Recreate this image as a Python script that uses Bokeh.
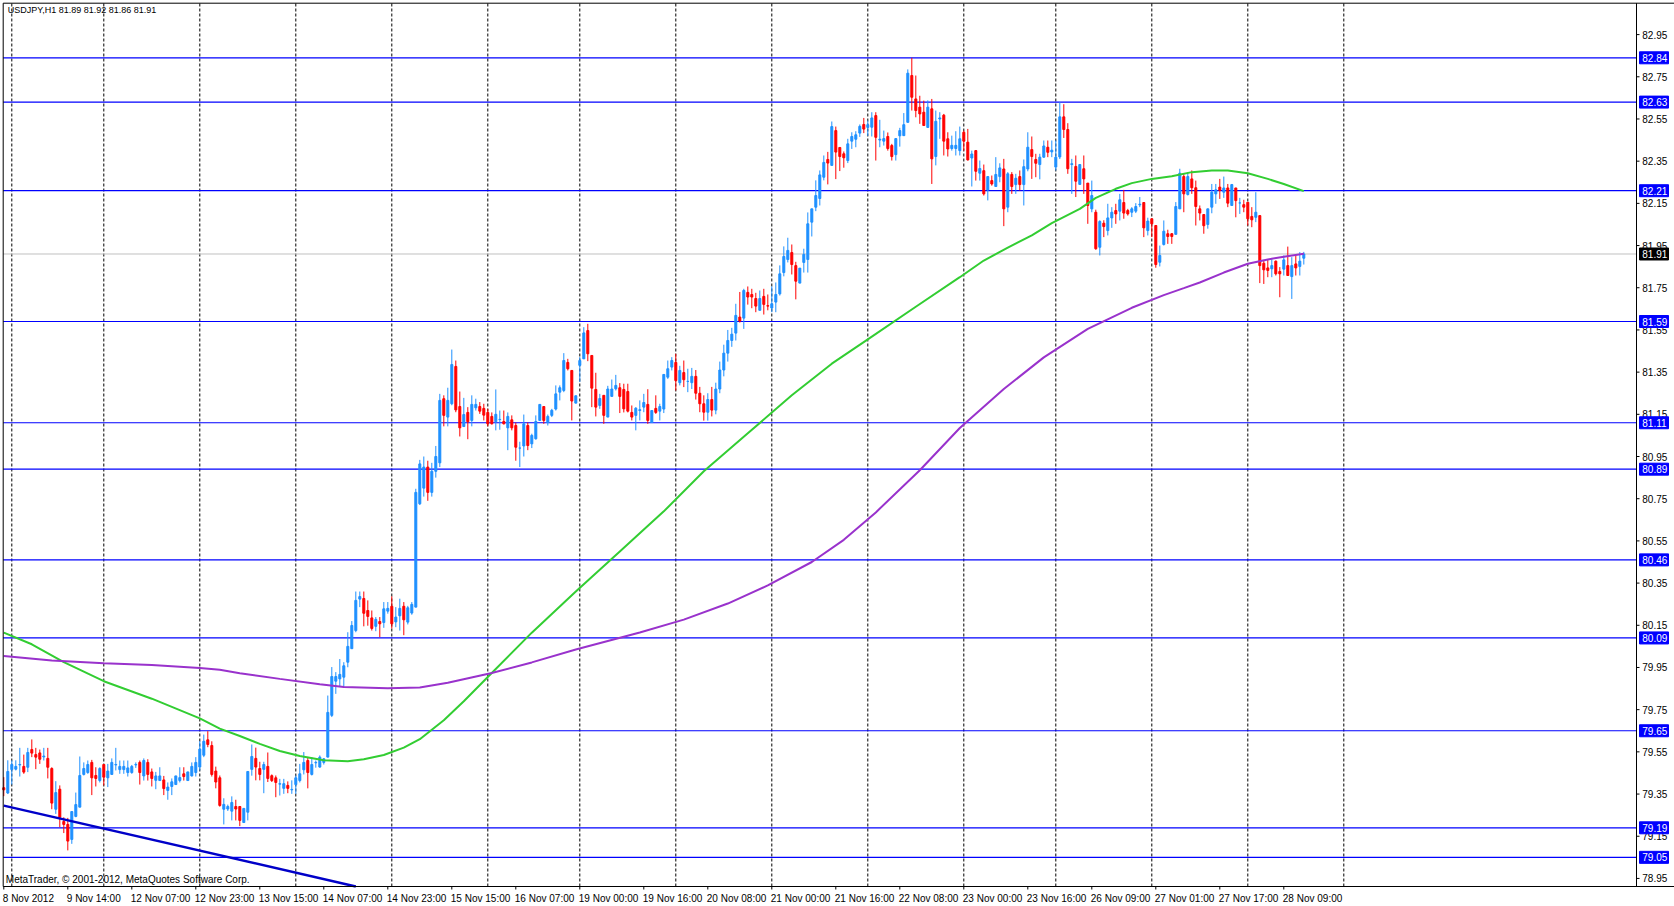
from bokeh.plotting import figure
from bokeh.models import Range1d, ColumnDataSource
from bokeh.core.properties import value
from bokeh.embed import file_html
from bokeh.resources import INLINE

# ---------------- data (USDJPY H1, bar index 0 = 8 Nov 2012 22:00) ----------------
opens = [
79.38, 79.355, 79.466, 79.468, 79.488, 79.481, 79.477, 79.561, 79.537, 79.545,
79.526, 79.519, 79.471, 79.278, 79.373, 79.22, 79.206, 79.135, 79.244, 79.288,
79.443, 79.452, 79.5, 79.438, 79.414, 79.49, 79.427, 79.443, 79.488, 79.466,
79.466, 79.452, 79.452, 79.488, 79.5, 79.436, 79.5, 79.455, 79.415, 79.414,
79.417, 79.367, 79.386, 79.395, 79.414, 79.446, 79.414, 79.436, 79.452, 79.478,
79.534, 79.607, 79.58, 79.459, 79.427, 79.278, 79.279, 79.269, 79.291, 79.291,
79.215, 79.264, 79.467, 79.519, 79.471, 79.467, 79.481, 79.437, 79.427, 79.397,
79.377, 79.391, 79.37, 79.395, 79.414, 79.465, 79.509, 79.443, 79.498, 79.478,
79.5, 79.525, 79.723, 79.885, 79.896, 79.904, 79.975, 80.039, 80.125, 80.274,
80.277, 80.22, 80.185, 80.145, 80.168, 80.163, 80.217, 80.24, 80.166, 80.195,
80.24, 80.165, 80.208, 80.236, 80.726, 80.80, 80.90, 80.78, 80.88, 80.92,
81.224, 81.137, 81.2, 81.377, 81.187, 81.092, 81.159, 81.121, 81.181, 81.187,
81.178, 81.159, 81.14, 81.115, 81.125, 81.116, 81.086, 81.124, 81.097, 80.99,
81.0, 81.097, 81.01, 81.034, 81.121, 81.187, 81.111, 81.145, 81.175, 81.255,
81.263, 81.396, 81.358, 81.203, 81.382, 81.413, 81.547, 81.429, 81.268, 81.192,
81.24, 81.137, 81.235, 81.271, 81.276, 81.268, 81.258, 81.159, 81.145, 81.168,
81.184, 81.197, 81.111, 81.178, 81.165, 81.175, 81.326, 81.374, 81.396, 81.3,
81.348, 81.306, 81.30, 81.33, 81.25, 81.20, 81.16, 81.22, 81.17, 81.27,
81.36, 81.44, 81.50, 81.535, 81.611, 81.606, 81.728, 81.718, 81.699, 81.643,
81.709, 81.665, 81.654, 81.682, 81.721, 81.822, 81.884, 81.917, 81.855, 81.772,
81.87, 81.884, 82.061, 82.132, 82.173, 82.274, 82.358, 82.33, 82.495, 82.415,
82.385, 82.353, 82.445, 82.454, 82.483, 82.524, 82.51, 82.511, 82.566, 82.45,
82.445, 82.467, 82.424, 82.381, 82.47, 82.471, 82.534, 82.756, 82.645, 82.606,
82.582, 82.51, 82.598, 82.372, 82.55, 82.568, 82.456, 82.41, 82.41, 82.4,
82.487, 82.44, 82.365, 82.4, 82.293, 82.305, 82.213, 82.258, 82.23, 82.277,
82.313, 82.132, 82.287, 82.239, 82.277, 82.239, 82.313, 82.405, 82.358, 82.334,
82.369, 82.416, 82.394, 82.322, 82.37, 82.56, 82.50, 82.334, 82.325, 82.24,
82.314, 82.246, 82.124, 82.108, 81.942, 82.056, 82.021, 82.081, 82.116, 82.113,
82.154, 82.116, 82.108, 82.113, 82.143, 82.154, 82.021, 82.077, 82.045, 81.871,
81.955, 82.006, 82.006, 82.003, 82.124, 82.277, 82.192, 82.266, 82.224, 82.124,
82.097, 82.05, 82.132, 82.195, 82.227, 82.203, 82.223, 82.14, 82.223, 82.152,
82.144, 82.155, 82.088, 82.084, 82.092, 81.866, 81.844, 81.84, 81.876, 81.827,
81.838, 81.855, 81.803, 81.863, 81.851, 81.89]

highs = [
79.43, 79.51, 79.51, 79.51, 79.569, 79.537, 79.569, 79.609, 79.569, 79.561,
79.569, 79.569, 79.477, 79.411, 79.391, 79.24, 79.237, 79.267, 79.357, 79.528,
79.5, 79.509, 79.512, 79.477, 79.477, 79.49, 79.493, 79.519, 79.569, 79.509,
79.509, 79.509, 79.488, 79.5, 79.509, 79.519, 79.515, 79.471, 79.455, 79.477,
79.436, 79.405, 79.424, 79.436, 79.477, 79.477, 79.455, 79.5, 79.525, 79.601,
79.632, 79.648, 79.6, 79.48, 79.438, 79.33, 79.3, 79.339, 79.323, 79.291,
79.282, 79.457, 79.585, 79.57, 79.503, 79.503, 79.547, 79.443, 79.438, 79.422,
79.422, 79.41, 79.415, 79.438, 79.493, 79.549, 79.525, 79.525, 79.509, 79.533,
79.52, 79.817, 79.952, 79.928, 79.99, 79.975, 80.117, 80.17, 80.31, 80.31,
80.31, 80.268, 80.22, 80.189, 80.189, 80.26, 80.26, 80.287, 80.236, 80.276,
80.26, 80.242, 80.26, 80.797, 80.934, 80.95, 80.93, 80.92, 81.0, 81.247,
81.24, 81.276, 81.457, 81.405, 81.258, 81.228, 81.184, 81.24, 81.224, 81.208,
81.2, 81.176, 81.159, 81.268, 81.168, 81.168, 81.159, 81.145, 81.111, 81.02,
81.149, 81.111, 81.058, 81.145, 81.197, 81.187, 81.149, 81.176, 81.287, 81.287,
81.44, 81.413, 81.358, 81.238, 81.421, 81.563, 81.579, 81.429, 81.347, 81.247,
81.24, 81.285, 81.315, 81.337, 81.298, 81.295, 81.295, 81.192, 81.184, 81.216,
81.247, 81.269, 81.168, 81.24, 81.2, 81.339, 81.405, 81.421, 81.437, 81.38,
81.405, 81.366, 81.37, 81.36, 81.28, 81.24, 81.25, 81.28, 81.30, 81.40,
81.48, 81.55, 81.56, 81.674, 81.73, 81.745, 81.756, 81.745, 81.726, 81.737,
81.745, 81.718, 81.756, 81.775, 81.856, 81.946, 81.987, 81.955, 81.873, 81.843,
81.935, 82.107, 82.124, 82.259, 82.306, 82.377, 82.394, 82.538, 82.514, 82.415,
82.396, 82.456, 82.487, 82.492, 82.524, 82.555, 82.543, 82.582, 82.582, 82.546,
82.495, 82.486, 82.432, 82.457, 82.508, 82.578, 82.785, 82.84, 82.756, 82.66,
82.637, 82.638, 82.645, 82.59, 82.582, 82.574, 82.487, 82.471, 82.492, 82.514,
82.495, 82.503, 82.4, 82.403, 82.353, 82.334, 82.277, 82.282, 82.369, 82.34,
82.361, 82.298, 82.298, 82.29, 82.306, 82.358, 82.487, 82.467, 82.385, 82.385,
82.448, 82.448, 82.448, 82.448, 82.63, 82.62, 82.53, 82.361, 82.377, 82.334,
82.377, 82.246, 82.258, 82.12, 82.07, 82.07, 82.148, 82.132, 82.148, 82.195,
82.214, 82.124, 82.132, 82.151, 82.18, 82.154, 82.082, 82.077, 82.045, 81.95,
82.069, 82.025, 82.009, 82.156, 82.314, 82.293, 82.298, 82.306, 82.258, 82.14,
82.097, 82.124, 82.242, 82.242, 82.266, 82.277, 82.242, 82.242, 82.223, 82.176,
82.167, 82.155, 82.132, 82.203, 82.092, 81.882, 81.882, 81.887, 81.879, 81.848,
81.903, 81.945, 81.895, 81.903, 81.919, 81.92]

lows = [
79.34, 79.35, 79.395, 79.462, 79.433, 79.446, 79.454, 79.525, 79.468, 79.493,
79.509, 79.424, 79.278, 79.256, 79.193, 79.165, 79.083, 79.114, 79.24, 79.288,
79.438, 79.446, 79.345, 79.386, 79.405, 79.391, 79.383, 79.443, 79.462, 79.446,
79.446, 79.433, 79.446, 79.474, 79.395, 79.414, 79.414, 79.386, 79.373, 79.414,
79.345, 79.323, 79.345, 79.395, 79.405, 79.414, 79.414, 79.433, 79.433, 79.462,
79.525, 79.572, 79.433, 79.377, 79.29, 79.206, 79.27, 79.225, 79.225, 79.198,
79.215, 79.225, 79.437, 79.415, 79.415, 79.354, 79.407, 79.407, 79.335, 79.343,
79.351, 79.354, 79.351, 79.351, 79.405, 79.443, 79.377, 79.438, 79.475, 79.475,
79.49, 79.525, 79.715, 79.825, 79.857, 79.857, 79.951, 80.039, 80.117, 80.236,
80.145, 80.148, 80.125, 80.122, 80.094, 80.138, 80.205, 80.135, 80.141, 80.125,
80.103, 80.154, 80.2, 80.236, 80.72, 80.76, 80.74, 80.76, 80.85, 80.90,
81.093, 81.093, 81.193, 81.16, 81.045, 81.092, 81.032, 81.093, 81.168, 81.152,
81.121, 81.093, 81.102, 81.074, 81.077, 81.102, 80.98, 81.074, 80.93, 80.90,
80.95, 80.98, 80.99, 81.03, 81.121, 81.105, 81.097, 81.137, 81.168, 81.216,
81.255, 81.358, 81.121, 81.203, 81.303, 81.413, 81.402, 81.184, 81.14, 81.176,
81.105, 81.137, 81.235, 81.263, 81.156, 81.159, 81.159, 81.121, 81.074, 81.121,
81.16, 81.105, 81.111, 81.152, 81.121, 81.156, 81.318, 81.358, 81.263, 81.287,
81.279, 81.255, 81.27, 81.22, 81.16, 81.12, 81.12, 81.14, 81.15, 81.25,
81.33, 81.40, 81.47, 81.50, 81.585, 81.555, 81.67, 81.653, 81.634, 81.643,
81.623, 81.643, 81.634, 81.634, 81.713, 81.804, 81.87, 81.813, 81.695, 81.772,
81.822, 81.822, 81.993, 82.113, 82.14, 82.259, 82.24, 82.33, 82.265, 82.303,
82.319, 82.341, 82.408, 82.416, 82.465, 82.483, 82.47, 82.467, 82.353, 82.416,
82.424, 82.4, 82.353, 82.353, 82.419, 82.471, 82.534, 82.59, 82.558, 82.527,
82.519, 82.51, 82.242, 82.33, 82.456, 82.377, 82.372, 82.4, 82.377, 82.377,
82.4, 82.353, 82.23, 82.258, 82.258, 82.187, 82.164, 82.234, 82.23, 82.25,
82.042, 82.108, 82.195, 82.195, 82.211, 82.14, 82.302, 82.266, 82.274, 82.264,
82.366, 82.369, 82.369, 82.306, 82.36, 82.46, 82.29, 82.195, 82.18, 82.24,
82.195, 82.053, 82.108, 81.93, 81.903, 81.99, 81.998, 82.034, 82.053, 82.069,
82.077, 82.092, 82.085, 82.104, 82.132, 81.99, 81.998, 81.99, 81.845, 81.851,
81.95, 81.958, 81.958, 82.003, 82.124, 82.108, 82.187, 82.195, 82.045, 82.069,
82.006, 82.03, 82.103, 82.148, 82.171, 82.176, 82.132, 82.14, 82.084, 82.1,
82.108, 82.045, 82.037, 82.061, 81.772, 81.768, 81.8, 81.8, 81.808, 81.705,
81.808, 81.808, 81.697, 81.808, 81.808, 81.86]

closes = [
79.37, 79.457, 79.49, 79.481, 79.49, 79.454, 79.547, 79.544, 79.525, 79.515,
79.53, 79.477, 79.307, 79.357, 79.24, 79.206, 79.127, 79.267, 79.3, 79.438,
79.471, 79.49, 79.427, 79.424, 79.471, 79.43, 79.459, 79.5, 79.49, 79.481,
79.481, 79.474, 79.481, 79.49, 79.452, 79.509, 79.443, 79.424, 79.436, 79.436,
79.376, 79.383, 79.408, 79.436, 79.428, 79.433, 79.455, 79.481, 79.5, 79.563,
79.6, 79.585, 79.443, 79.407, 79.296, 79.301, 79.291, 79.31, 79.279, 79.225,
79.282, 79.457, 79.528, 79.478, 79.443, 79.49, 79.424, 79.414, 79.405, 79.399,
79.399, 79.377, 79.372, 79.427, 79.446, 79.5, 79.452, 79.49, 79.5, 79.525,
79.517, 79.737, 79.907, 79.907, 79.917, 79.958, 80.05, 80.149, 80.268, 80.286,
80.207, 80.192, 80.135, 80.178, 80.157, 80.228, 80.23, 80.157, 80.189, 80.23,
80.176, 80.233, 80.249, 80.78, 80.915, 80.90, 80.78, 80.88, 80.95, 81.216,
81.145, 81.216, 81.386, 81.171, 81.086, 81.149, 81.115, 81.197, 81.197, 81.165,
81.146, 81.105, 81.105, 81.15, 81.126, 81.105, 81.14, 81.086, 80.994, 80.99,
81.105, 81.002, 81.05, 81.116, 81.197, 81.121, 81.14, 81.169, 81.247, 81.276,
81.405, 81.366, 81.213, 81.238, 81.405, 81.536, 81.437, 81.274, 81.184, 81.225,
81.145, 81.27, 81.27, 81.287, 81.235, 81.176, 81.165, 81.137, 81.179, 81.172,
81.206, 81.121, 81.168, 81.159, 81.187, 81.339, 81.366, 81.405, 81.31, 81.358,
81.314, 81.306, 81.33, 81.25, 81.20, 81.16, 81.22, 81.17, 81.27, 81.36,
81.44, 81.50, 81.53, 81.619, 81.592, 81.737, 81.706, 81.706, 81.663, 81.699,
81.671, 81.663, 81.674, 81.718, 81.816, 81.898, 81.927, 81.86, 81.781, 81.843,
81.908, 82.053, 82.124, 82.187, 82.285, 82.344, 82.341, 82.514, 82.393, 82.372,
82.366, 82.432, 82.467, 82.475, 82.515, 82.502, 82.523, 82.555, 82.463, 82.454,
82.457, 82.41, 82.372, 82.457, 82.495, 82.523, 82.767, 82.653, 82.59, 82.574,
82.519, 82.606, 82.361, 82.539, 82.555, 82.445, 82.408, 82.425, 82.425, 82.456,
82.445, 82.356, 82.384, 82.302, 82.315, 82.195, 82.277, 82.242, 82.287, 82.318,
82.124, 82.29, 82.23, 82.269, 82.239, 82.324, 82.416, 82.372, 82.34, 82.369,
82.422, 82.392, 82.402, 82.369, 82.56, 82.50, 82.314, 82.338, 82.255, 82.334,
82.266, 82.14, 82.187, 81.935, 82.064, 82.04, 82.081, 82.108, 82.1, 82.167,
82.104, 82.1, 82.124, 82.135, 82.146, 82.034, 82.066, 82.053, 81.86, 81.903,
82.018, 81.993, 81.993, 82.135, 82.293, 82.195, 82.277, 82.224, 82.135, 82.104,
82.044, 82.124, 82.203, 82.214, 82.211, 82.223, 82.151, 82.239, 82.163, 82.152,
82.132, 82.077, 82.072, 82.108, 81.855, 81.835, 81.832, 81.855, 81.816, 81.816,
81.882, 81.808, 81.855, 81.844, 81.876, 81.91]

# moving averages, read at sampled bars
ma_fast_idx = [0, 7, 15, 25, 37, 49, 54, 59, 64, 69, 74, 80, 86, 90, 95, 100, 104, 110, 115, 121,
               132, 143, 154, 165, 175, 186, 197, 207, 216, 228, 239, 245, 251, 257, 262, 269,
               273, 278, 282, 287, 292, 297, 302, 306, 311, 316, 320, 325]
ma_fast_val = [80.115, 80.06, 79.975, 79.885, 79.802, 79.709, 79.66, 79.625, 79.588, 79.554, 79.53,
               79.51, 79.506, 79.515, 79.535, 79.57, 79.61, 79.70, 79.79, 79.905, 80.115, 80.31,
               80.50, 80.69, 80.88, 81.06, 81.24, 81.39, 81.505, 81.66, 81.80, 81.879, 81.94,
               81.998, 82.056, 82.124, 82.176, 82.219, 82.246, 82.266, 82.279, 82.298, 82.306,
               82.306, 82.293, 82.266, 82.242, 82.208]
ma_slow_idx = [0, 12, 25, 37, 49, 54, 59, 69, 79, 85, 96, 104, 111, 122, 132, 143, 159, 170, 181,
               191, 202, 210, 218, 229, 239, 250, 260, 271, 282, 290, 295, 299, 305, 311, 316,
               320, 325]
ma_slow_val = [80.004, 79.983, 79.97, 79.962, 79.947, 79.939, 79.923, 79.896, 79.87, 79.857,
               79.852, 79.855, 79.878, 79.924, 79.974, 80.035, 80.116, 80.177, 80.253, 80.339,
               80.45, 80.555, 80.685, 80.885, 81.085, 81.27, 81.42, 81.555, 81.655, 81.715,
               81.748, 81.775, 81.822, 81.864, 81.884, 81.897, 81.911]

trend_idx = [0, 88]
trend_price = [79.295, 78.912]

level_prices = [82.84, 82.63, 82.21, 81.59, 81.11, 80.89, 80.46, 80.09, 79.65, 79.19, 79.05]
bid_price = 81.91
separator_idx = [2, 25, 49, 73, 97, 121, 144, 168, 192, 216, 240, 263, 287, 311, 335]
price_ticks = [78.95, 79.15, 79.35, 79.55, 79.75, 79.95, 80.15, 80.35, 80.55, 80.75, 80.95,
               81.15, 81.35, 81.55, 81.75, 81.95, 82.15, 82.35, 82.55, 82.75, 82.95]
time_tick_idx = [0, 16, 32, 48, 64, 80, 96, 112, 128, 144, 160, 176, 192, 208, 224, 240, 256,
                 272, 288, 304, 320]
time_tick_labels = ["8 Nov 2012", "9 Nov 14:00", "12 Nov 07:00", "12 Nov 23:00", "13 Nov 15:00",
                    "14 Nov 07:00", "14 Nov 23:00", "15 Nov 15:00", "16 Nov 07:00", "19 Nov 00:00",
                    "19 Nov 16:00", "20 Nov 08:00", "21 Nov 00:00", "21 Nov 16:00", "22 Nov 08:00",
                    "23 Nov 00:00", "23 Nov 16:00", "26 Nov 09:00", "27 Nov 01:00", "27 Nov 17:00",
                    "28 Nov 09:00"]
title_text = "USDJPY,H1  81.89 81.92 81.86 81.91"
copyright_text = "MetaTrader, \u00a9 2001-2012, MetaQuotes Software Corp."

# ---------------- figure (frame covers the whole canvas; price & time scales drawn inside) ----
FONT = value("Liberation Sans")
BULL = "#1E90FF"
BEAR = "#FF0000"

W, H = 1674, 906
PX_PER_BAR = 4.0
PX_PER_PRICE = 210.96
# canvas placed at page (0, 0)
X0 = (0 - 3.3) / PX_PER_BAR
X1 = X0 + W / PX_PER_BAR
Y1 = 82.84 + 57.3 / PX_PER_PRICE
Y0 = Y1 - H / PX_PER_PRICE
LEFT_X = (2.7 - 3.3) / PX_PER_BAR                 # left border (bar units)
SCALE_X = (1636 - 3.3) / PX_PER_BAR               # price scale line (bar units)
TOP_Y = 82.84 + (57.3 - 2.7) / PX_PER_PRICE       # top border (price units)
BOTTOM_Y = 82.84 - (886 - 57.3) / PX_PER_PRICE    # time scale line (price units)

p = figure(width=W, height=H, output_backend="svg", toolbar_location=None,
           x_range=Range1d(X0, X1), y_range=Range1d(Y0, Y1),
           min_border=0, outline_line_color=None)
p.axis.visible = False
p.grid.visible = False
p.background_fill_color = "white"
p.border_fill_color = "white"

# period separators (dashed)
p.segment(x0=separator_idx, y0=[BOTTOM_Y] * len(separator_idx),
          x1=separator_idx, y1=[TOP_Y] * len(separator_idx),
          line_color="black", line_width=1, line_dash="3 2")

# horizontal levels and bid line
p.segment(x0=[LEFT_X] * len(level_prices), y0=level_prices,
          x1=[SCALE_X] * len(level_prices), y1=level_prices,
          line_color="#0000FF", line_width=1.2)
p.segment(x0=[LEFT_X], y0=[bid_price], x1=[SCALE_X], y1=[bid_price],
          line_color="#C0C0C0", line_width=1)

# candles
idx = list(range(len(closes)))
colors = [BULL if c >= o else BEAR for o, c in zip(opens, closes)]
src = ColumnDataSource(dict(x=idx, h=highs, l=lows,
                            top=[max(o, c) for o, c in zip(opens, closes)],
                            bot=[min(o, c) for o, c in zip(opens, closes)],
                            col=colors))
p.segment(x0="x", y0="l", x1="x", y1="h", color="col", line_width=1, source=src)
p.vbar(x="x", width=0.5, top="top", bottom="bot", fill_color="col", line_color="col",
       line_width=1, source=src)

# moving averages
p.line(ma_fast_idx, ma_fast_val, line_color="#32CD32", line_width=2)
p.line(ma_slow_idx, ma_slow_val, line_color="#9932CC", line_width=2)

# trend line
p.line(trend_idx, trend_price, line_color="#0000C8", line_width=2.5)

# chart borders
p.segment(x0=[LEFT_X, LEFT_X, LEFT_X, SCALE_X], y0=[TOP_Y, BOTTOM_Y, BOTTOM_Y, BOTTOM_Y],
          x1=[X1, X1, LEFT_X, SCALE_X], y1=[TOP_Y, BOTTOM_Y, TOP_Y, TOP_Y],
          line_color="black", line_width=1)

# price scale: ticks and labels
p.segment(x0=[SCALE_X] * len(price_ticks), y0=price_ticks,
          x1=[SCALE_X + 0.75] * len(price_ticks), y1=price_ticks, line_color="black", line_width=1)
p.text(x=[SCALE_X + 1.45] * len(price_ticks), y=price_ticks,
       text=["%.2f" % t for t in price_ticks], text_font=FONT, text_font_size="10px",
       text_color="black", text_align="left", text_baseline="middle")

# highlighted level labels
box_x = SCALE_X + 0.75 + 29 / PX_PER_BAR / 2
p.rect(x=[box_x] * len(level_prices), y=level_prices, width=29 / PX_PER_BAR, height=12,
       height_units="screen", fill_color="#0000FF", line_color="#0000FF")
p.text(x=[SCALE_X + 1.45] * len(level_prices), y=level_prices,
       text=["%.2f" % v for v in level_prices], text_font=FONT, text_font_size="10px",
       text_color="white", text_align="left", text_baseline="middle")
p.rect(x=[box_x], y=[bid_price], width=29 / PX_PER_BAR, height=12, height_units="screen",
       fill_color="black", line_color="black")
p.text(x=[SCALE_X + 1.45], y=[bid_price], text=["%.2f" % bid_price], text_font=FONT,
       text_font_size="10px", text_color="white", text_align="left", text_baseline="middle")

# time scale: ticks and labels
p.segment(x0=time_tick_idx, y0=[BOTTOM_Y] * len(time_tick_idx),
          x1=time_tick_idx, y1=[BOTTOM_Y - 3 / PX_PER_PRICE] * len(time_tick_idx),
          line_color="black", line_width=1)
p.text(x=[t - 0.25 for t in time_tick_idx], y=[BOTTOM_Y - 6 / PX_PER_PRICE] * len(time_tick_idx),
       text=time_tick_labels, text_font=FONT, text_font_size="10px", text_color="black",
       text_align="left", text_baseline="top")

# header and copyright
p.text(x=[1.0], y=[TOP_Y - 1.5 / PX_PER_PRICE], text=[title_text], text_font=FONT,
       text_font_size="9px", text_color="black", text_align="left", text_baseline="top")
p.text(x=[0.5], y=[BOTTOM_Y + 2 / PX_PER_PRICE], text=[copyright_text], text_font=FONT,
       text_font_size="10px", text_color="black", text_align="left", text_baseline="bottom")

open("out.html", "w").write(file_html(p, INLINE))
